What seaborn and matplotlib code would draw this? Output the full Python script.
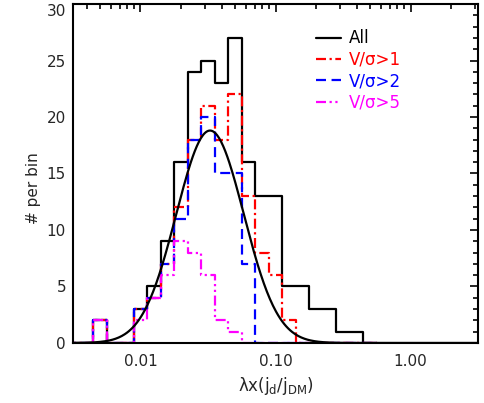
import numpy as np
import pandas as pd
import seaborn as sns
import matplotlib.pyplot as plt
from matplotlib.ticker import FixedLocator, FuncFormatter, LogLocator, MultipleLocator, NullFormatter

# bin centres in log10(lambda x jd/jDM), bins are 0.1 dex wide
log_centres = [-2.5, -2.4, -2.3, -2.2, -2.1, -2.0, -1.9, -1.8, -1.7, -1.6, -1.5, -1.4,
               -1.3, -1.2, -1.1, -1.0, -0.9, -0.8, -0.7, -0.6, -0.5, -0.4, -0.3]
bin_width = 0.1

# counts per bin
n_all = [0, 0, 2, 0, 0, 3, 5, 9, 16, 24, 25, 23, 27, 16, 13, 13, 5, 5, 3, 3, 1, 1, 0]
n_vs1 = [0, 0, 2, 0, 0, 3, 4, 7, 12, 18, 21, 18, 22, 13, 8, 6, 2, 0, 0, 0, 0, 0, 0]
n_vs2 = [0, 0, 2, 0, 0, 3, 4, 7, 11, 18, 20, 15, 15, 7, 0, 0, 0, 0, 0, 0, 0, 0, 0]
n_vs5 = [0, 0, 2, 0, 0, 2, 4, 6, 9, 8, 6, 2, 1, 0, 0, 0, 0, 0, 0, 0, 0, 0, 0]

names = ['All', 'V/σ>1', 'V/σ>2', 'V/σ>5']
colors = {'All': 'black', 'V/σ>1': '#ff0000', 'V/σ>2': '#0000ff', 'V/σ>5': '#ff00ff'}
dash_map = {'All': '', 'V/σ>1': (4.5, 1.6, 1, 1.6), 'V/σ>2': (4.5, 2.5),
            'V/σ>5': (4.5, 1.6, 1, 1.6, 1, 1.6)}

# lognormal fit drawn on top (peak height, centre and width in dex)
fit_peak = 18.8
fit_log_centre = -1.485
fit_sigma = 0.25

# step outlines: left edges plus the final right edge
edges = [c - bin_width / 2 for c in log_centres] + [log_centres[-1] + bin_width / 2]
rows = []
for name, counts in zip(names, [n_all, n_vs1, n_vs2, n_vs5]):
    ys = list(counts) + [counts[-1]]
    for e, y in zip(edges, ys):
        rows.append({'sample': name, 'x': 10 ** e, 'n': y})
steps = pd.DataFrame(rows)

curve_log = np.linspace(-2.5, 0.5, 400)
curve = pd.DataFrame({'x': 10 ** curve_log,
                      'n': fit_peak * np.exp(-(curve_log - fit_log_centre) ** 2 / (2 * fit_sigma ** 2))})

sns.set_style('white')
plt.rcParams['font.family'] = ['DejaVu Sans']

fig, ax = plt.subplots(figsize=(4.85, 4.03), dpi=100)
fig.subplots_adjust(left=0.1505, right=0.9856, bottom=0.149, top=0.990)

sns.lineplot(data=steps, x='x', y='n', hue='sample', style='sample', hue_order=names,
             style_order=names, palette=colors, dashes=dash_map, drawstyle='steps-post',
             estimator=None, sort=False, linewidth=1.6, legend=False, ax=ax)
sns.lineplot(data=curve, x='x', y='n', color='black', linewidth=1.6, estimator=None, ax=ax)

ax.set_xscale('log')
ax.set_xlim(10 ** -2.5, 10 ** 0.5)
ax.set_ylim(0, 30)

ax.xaxis.set_major_locator(FixedLocator([0.01, 0.1, 1.0]))
ax.xaxis.set_major_formatter(FuncFormatter(lambda v, p: f'{v:.2f}'))
ax.xaxis.set_minor_locator(LogLocator(base=10, subs=np.arange(2, 10), numticks=20))
ax.xaxis.set_minor_formatter(NullFormatter())
ax.yaxis.set_major_locator(MultipleLocator(5))
ax.yaxis.set_minor_locator(MultipleLocator(1))

ax.tick_params(which='both', direction='in', top=True, right=True, width=1.4, labelsize=11)
ax.tick_params(which='major', length=6)
ax.tick_params(which='minor', length=3.5)
ax.tick_params(axis='x', pad=8)
ax.tick_params(axis='y', pad=5)
for s in ax.spines.values():
    s.set_linewidth(1.5)
    s.set_color('black')

# keep the "30" label inside the figure, hanging below its tick like the original
yticks = ax.yaxis.get_major_ticks()
for t, v in zip(yticks, ax.get_yticks()):
    if v >= 30:
        t.label1.set_verticalalignment('top')

ax.set_xlabel('λx(j$_{\\rm d}$/j$_{\\rm DM}$)', fontsize=12)
ax.set_ylabel('# per bin', fontsize=11)
ax.yaxis.set_label_coords(-0.078, 0.456)

ax.legend(handles=ax.lines[:4], labels=names, loc='upper left', bbox_to_anchor=(0.6, 0.925),
          frameon=False, handlelength=1.5, handletextpad=0.5, labelspacing=0.2,
          borderpad=0, borderaxespad=0, fontsize=12, labelcolor='linecolor')

fig.savefig('out.png', dpi=100)
